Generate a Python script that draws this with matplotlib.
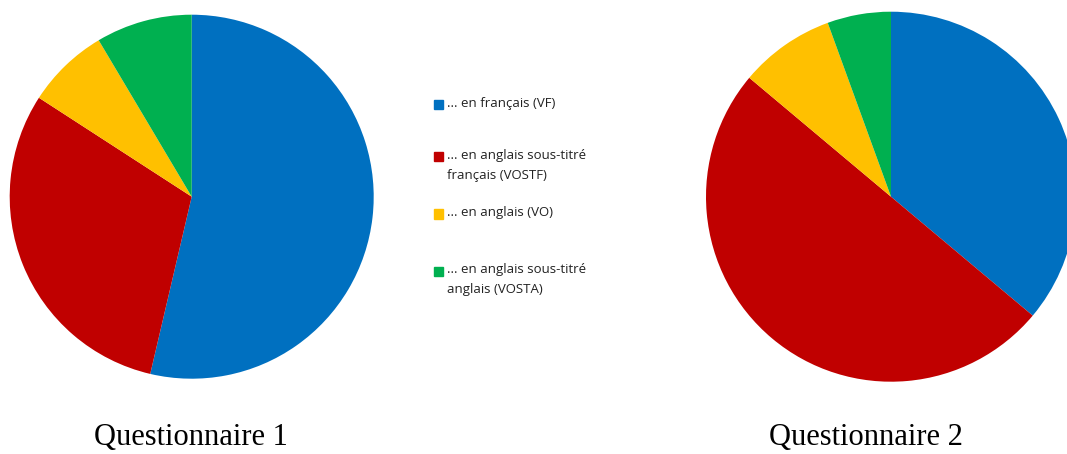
import matplotlib
matplotlib.use("Agg")
import matplotlib.pyplot as plt
from matplotlib.patches import Rectangle

# answer categories (legend labels)
categories = ["... en français (VF)",
              "... en anglais sous-titré\nfrançais (VOSTF)",
              "... en anglais (VO)",
              "... en anglais sous-titré\nanglais (VOSTA)"]

# answer counts
counts_q1 = [44, 25, 6, 7]
counts_q2 = [13, 18, 3, 2]

titles = ["Questionnaire 1", "Questionnaire 2"]
colors = ["#0070C0", "#C00000", "#FFC000", "#00B050"]

W, H = 1067, 454
fig = plt.figure(figsize=(W / 100, H / 100), dpi=100)


# helper to place a square axes from pixel centre and radius
def pie_axes(cx, cy, r):
    return fig.add_axes([(cx - r) / W, (H - cy - r) / H, 2 * r / W, 2 * r / H])


ax1 = pie_axes(191.7, 196.7, 182)
ax2 = pie_axes(891, 196.7, 185)

for ax, counts in [(ax1, counts_q1), (ax2, counts_q2)]:
    ax.pie(counts, colors=colors, startangle=90, counterclock=False,
           wedgeprops={"linewidth": 0})
    ax.set_xlim(-1, 1)
    ax.set_ylim(-1, 1)
    ax.set_aspect("equal")
    ax.axis("off")

# titles below each pie
fig.text(191 / W, 1 - 437 / H, titles[0], ha="center", va="center",
         fontsize=22, family="Liberation Serif")
fig.text(866 / W, 1 - 437 / H, titles[1], ha="center", va="center",
         fontsize=22, family="Liberation Serif")

# legend in the middle (pixel rows of each entry)
legend_rows = [105, 157, 214, 271]
for i, label in enumerate(categories):
    y = legend_rows[i]
    fig.patches.append(Rectangle((434 / W, 1 - (y + 4.5) / H), 9 / W, 9 / H,
                                 transform=fig.transFigure, color=colors[i]))
    fig.text(447 / W, 1 - (y - 8) / H, label, ha="left", va="top",
             fontsize=9.5, family="Open Sans", linespacing=1.75, color="#222222")

fig.savefig("out.png", dpi=100)
